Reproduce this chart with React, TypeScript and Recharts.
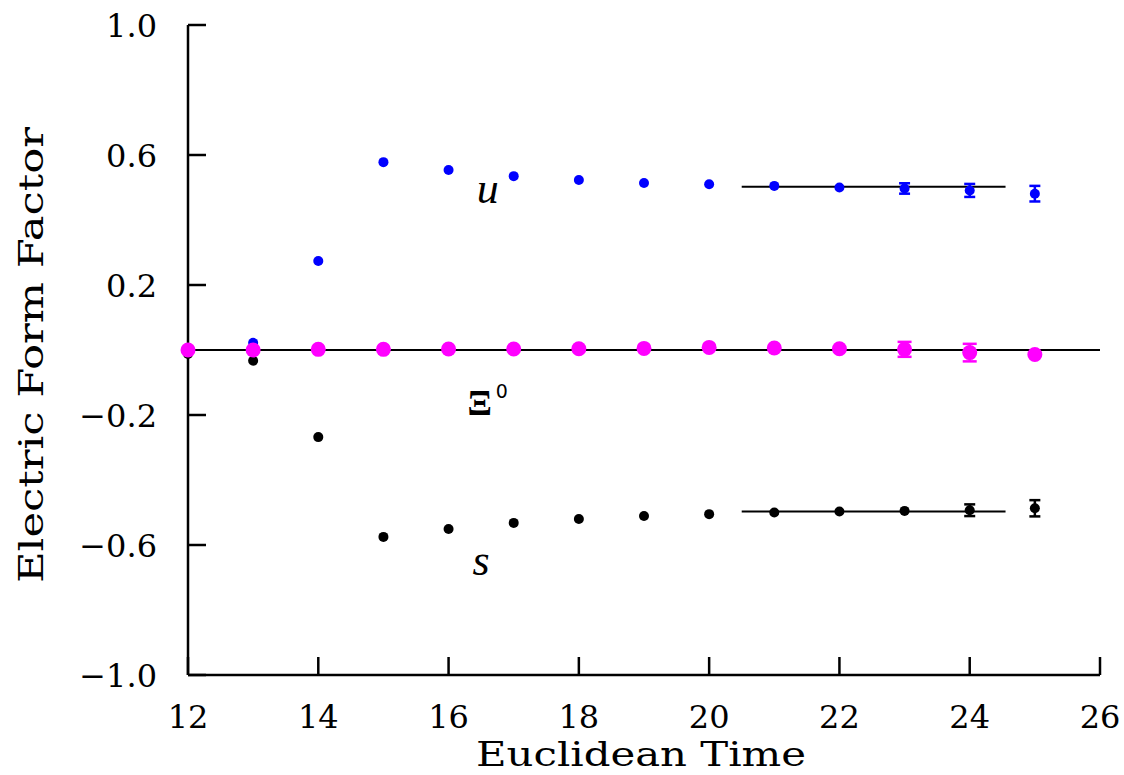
import {
  ScatterChart,
  Scatter,
  XAxis,
  YAxis,
  ErrorBar,
  ReferenceLine,
  ReferenceDot,
} from "recharts";

// Euclidean time slices
const times = [12, 13, 14, 15, 16, 17, 18, 19, 20, 21, 22, 23, 24, 25];

// u quark contribution
const uValues = [0.0, 0.022, 0.274, 0.578, 0.554, 0.535, 0.523, 0.514, 0.51, 0.505, 0.5, 0.497, 0.491, 0.481];
const uErrors = [0, 0, 0, 0, 0, 0, 0, 0, 0, 0, 0, 0.016, 0.02, 0.024];

// s quark contribution
const sValues = [-0.012, -0.033, -0.268, -0.575, -0.551, -0.532, -0.52, -0.511, -0.505, -0.5, -0.497, -0.495, -0.493, -0.487];
const sErrors = [0, 0, 0, 0, 0, 0, 0, 0, 0, 0, 0, 0, 0.018, 0.025];

// Xi0 total
const xiValues = [0.0, 0.0, 0.002, 0.002, 0.003, 0.003, 0.004, 0.005, 0.008, 0.006, 0.004, 0.002, -0.008, -0.014];
const xiErrors = [0, 0, 0, 0, 0, 0, 0, 0, 0, 0, 0, 0.023, 0.027, 0];

// plateau fits
const fitRange = [20.5, 24.55];
const fitU = 0.502;
const fitS = -0.497;

const xTicks = [12, 14, 16, 18, 20, 22, 24, 26];
const yTicks = [-1.0, -0.6, -0.2, 0.2, 0.6, 1.0];

const rows = (vals: number[], errs: number[]) =>
  times.map((t, i) => ({ t, v: vals[i], err: errs[i] }));

const uData = rows(uValues, uErrors);
const sData = rows(sValues, sErrors);
const xiData = rows(xiValues, xiErrors);

// layout
const W = 1124;
const H = 775;
const MARGIN = { top: 25, right: 24, bottom: 0, left: 0 };
const Y_AXIS_W = 188;
const X_AXIS_H = 100;
const PLOT_LEFT = MARGIN.left + Y_AXIS_W;
const PLOT_RIGHT = W - MARGIN.right;
const PLOT_TOP = MARGIN.top;
const PLOT_BOTTOM = H - MARGIN.bottom - X_AXIS_H;

const FONT = "'DejaVu Serif', serif";
const TICK = 18;
const AXIS_W = 2.5;

const fmt = (v: number) => (v < 0 ? "\u2212" + Math.abs(v).toFixed(1) : v.toFixed(1));

function BottomTick(props: any) {
  const { x, payload } = props;
  return (
    <g>
      <line x1={x} x2={x} y1={PLOT_BOTTOM} y2={PLOT_BOTTOM - TICK} stroke="#000" strokeWidth={AXIS_W} />
      <text x={x} y={PLOT_BOTTOM + 53} textAnchor="middle" fontFamily={FONT} fontSize={32} fill="#000">
        {payload.value}
      </text>
    </g>
  );
}

function TopTick(props: any) {
  const { x } = props;
  return <line x1={x} x2={x} y1={PLOT_TOP} y2={PLOT_TOP + TICK} stroke="#000" strokeWidth={AXIS_W} />;
}

function LeftTick(props: any) {
  const { y, payload } = props;
  return (
    <g>
      <line x1={PLOT_LEFT} x2={PLOT_LEFT + TICK} y1={y} y2={y} stroke="#000" strokeWidth={AXIS_W} />
      <text x={PLOT_LEFT - 31} y={y + 12} textAnchor="end" fontFamily={FONT} fontSize={32} fill="#000">
        {fmt(payload.value)}
      </text>
    </g>
  );
}

function RightTick(props: any) {
  const { y } = props;
  return <line x1={PLOT_RIGHT} x2={PLOT_RIGHT - TICK} y1={y} y2={y} stroke="#000" strokeWidth={AXIS_W} />;
}

const dot = (r: number, color: string) => (p: any) =>
  <circle cx={p.cx} cy={p.cy} r={r} fill={color} />;

const textLabel = (content: React.ReactNode) => (p: any) => {
  const vb = p.viewBox;
  return (
    <text x={vb.x} y={vb.y} textAnchor="middle" dominantBaseline="central" fill="#000">
      {content}
    </text>
  );
};

export default function App() {
  return (
    <div style={{ position: "absolute", left: 0, top: 0, background: "#fff" }}>
      <ScatterChart width={W} height={H} margin={MARGIN}>
        <XAxis
          type="number"
          dataKey="t"
          domain={[12, 26]}
          ticks={xTicks}
          interval={0}
          height={X_AXIS_H}
          axisLine={{ stroke: "#000", strokeWidth: AXIS_W }}
          tickLine={false}
          tickSize={0}
          tick={<BottomTick />}
          label={{
            content: () => (
              <text
                x={(PLOT_LEFT + PLOT_RIGHT) / 2 - 3}
                y={H - 9}
                textAnchor="middle"
                fontFamily={FONT}
                fontSize={33}
                textLength={330}
                lengthAdjust="spacingAndGlyphs"
                fill="#000"
              >
                Euclidean Time
              </text>
            ),
          }}
        />
        <XAxis
          xAxisId="top"
          orientation="top"
          type="number"
          dataKey="t"
          domain={[12, 26]}
          ticks={xTicks}
          interval={0}
          height={0}
          axisLine={{ stroke: "#000", strokeWidth: AXIS_W }}
          tickLine={false}
          tickSize={0}
          tick={<TopTick />}
        />
        <YAxis
          type="number"
          dataKey="v"
          domain={[-1, 1]}
          ticks={yTicks}
          interval={0}
          width={Y_AXIS_W}
          axisLine={{ stroke: "#000", strokeWidth: AXIS_W }}
          tickLine={false}
          tickSize={0}
          tick={<LeftTick />}
          label={{
            content: () => {
              const cx = 31;
              const cy = (PLOT_TOP + PLOT_BOTTOM) / 2 + 5;
              return (
                <text
                  x={cx}
                  y={cy}
                  transform={`rotate(-90 ${cx} ${cy})`}
                  textAnchor="middle"
                  dominantBaseline="central"
                  fontFamily={FONT}
                  fontSize={33}
                  textLength={456}
                  lengthAdjust="spacingAndGlyphs"
                  fill="#000"
                >
                  Electric Form Factor
                </text>
              );
            },
          }}
        />
        <YAxis
          yAxisId="right"
          orientation="right"
          type="number"
          dataKey="v"
          domain={[-1, 1]}
          ticks={yTicks}
          interval={0}
          width={0}
          axisLine={{ stroke: "#000", strokeWidth: AXIS_W }}
          tickLine={false}
          tickSize={0}
          tick={<RightTick />}
        />

        <ReferenceLine y={0} stroke="#000" strokeWidth={2} />
        <ReferenceLine
          segment={[
            { x: fitRange[0], y: fitU },
            { x: fitRange[1], y: fitU },
          ]}
          stroke="#000"
          strokeWidth={2}
        />
        <ReferenceLine
          segment={[
            { x: fitRange[0], y: fitS },
            { x: fitRange[1], y: fitS },
          ]}
          stroke="#000"
          strokeWidth={2}
        />

        <Scatter data={uData} fill="#0000ff" shape={dot(5, "#0000ff")} isAnimationActive={false}>
          <ErrorBar dataKey="err" direction="y" width={5.5} stroke="#0000ff" strokeWidth={2.5} />
        </Scatter>
        <Scatter data={sData} fill="#000000" shape={dot(5, "#000000")} isAnimationActive={false}>
          <ErrorBar dataKey="err" direction="y" width={5.5} stroke="#000000" strokeWidth={2.5} />
        </Scatter>
        <Scatter data={xiData} fill="#ff00ff" shape={dot(7.5, "#ff00ff")} isAnimationActive={false}>
          <ErrorBar dataKey="err" direction="y" width={7} stroke="#ff00ff" strokeWidth={2.5} />
        </Scatter>

        <ReferenceDot
          x={16.6}
          y={0.5}
          r={0}
          label={{
            content: textLabel(
              <tspan fontFamily="'Liberation Serif', serif" fontStyle="italic" fontSize={44}>
                u
              </tspan>
            ),
          }}
        />
        <ReferenceDot
          x={16.6}
          y={-0.163}
          r={0}
          label={{
            content: textLabel(
              <>
                <tspan fontFamily="'Liberation Serif', serif" fontWeight="bold" fontSize={36}>
                  Ξ
                </tspan>
                <tspan fontFamily="'DejaVu Sans', sans-serif" fontSize={19} dy={-12} dx={4}>
                  0
                </tspan>
              </>
            ),
          }}
        />
        <ReferenceDot
          x={16.5}
          y={-0.645}
          r={0}
          label={{
            content: textLabel(
              <tspan fontFamily="'Liberation Serif', serif" fontStyle="italic" fontSize={44}>
                s
              </tspan>
            ),
          }}
        />
      </ScatterChart>
    </div>
  );
}
